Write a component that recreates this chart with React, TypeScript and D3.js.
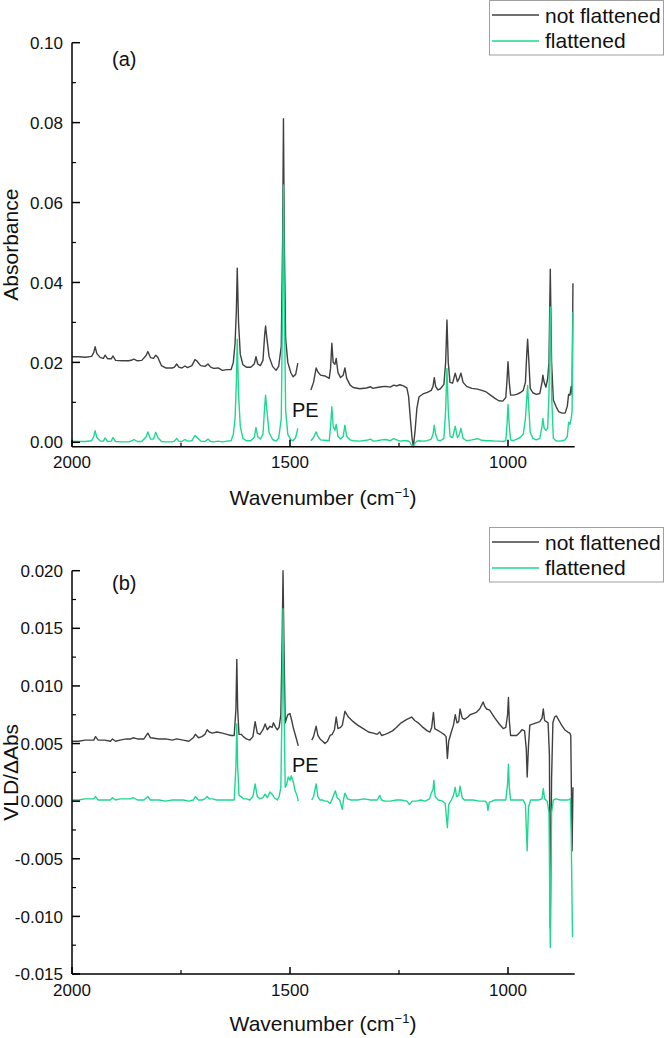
import React from "react";
import * as d3 from "d3";

type Pt = [number, number | null];

const seriesNames = ["not flattened", "flattened"];
const seriesColors = ["#404040", "#1dd98f"];
const xTicks = [2000, 1500, 1000];
const xMinorTicks = [1750, 1250];
const yTicksA = [0, 0.02, 0.04, 0.06, 0.08, 0.1];
const yMinorA = [0.01, 0.03, 0.05, 0.07, 0.09];
const yTicksB = [-0.015, -0.01, -0.005, 0, 0.005, 0.01, 0.015, 0.02];
const yMinorB = [-0.0125, -0.0075, -0.0025, 0.0025, 0.0075, 0.0125, 0.0175];

const absNotFlattened: Pt[] = [
  [2000, 0.0214], [1985, 0.0214], [1970, 0.0213], [1955, 0.0215], [1950, 0.0225], [1947, 0.0239], [1943, 0.0222],
  [1935, 0.0212], [1928, 0.021], [1924, 0.0218], [1918, 0.0209], [1910, 0.0209], [1906, 0.0216], [1900, 0.0205],
  [1885, 0.0204], [1870, 0.0204], [1862, 0.0206], [1858, 0.0208], [1850, 0.0204], [1840, 0.0205], [1830, 0.0217],
  [1826, 0.0227], [1820, 0.0212], [1813, 0.021], [1808, 0.0218], [1803, 0.0212], [1795, 0.0192], [1785, 0.0186],
  [1770, 0.0186], [1765, 0.0188], [1760, 0.0196], [1755, 0.0188], [1748, 0.0186], [1741, 0.0191], [1735, 0.0187],
  [1725, 0.0192], [1718, 0.0207], [1714, 0.0204], [1705, 0.0192], [1695, 0.019], [1688, 0.0196], [1682, 0.0188],
  [1675, 0.0185], [1665, 0.0186], [1655, 0.018], [1645, 0.0182], [1635, 0.0182], [1630, 0.02], [1626, 0.0248],
  [1623, 0.033], [1621, 0.0436], [1618, 0.03], [1614, 0.022], [1608, 0.0194], [1600, 0.0188], [1590, 0.0188],
  [1582, 0.0196], [1578, 0.0214], [1574, 0.0196], [1568, 0.0192], [1562, 0.0205], [1558, 0.027], [1556, 0.0291],
  [1553, 0.026], [1548, 0.0215], [1540, 0.019], [1532, 0.018], [1526, 0.019], [1520, 0.024], [1517, 0.05],
  [1515, 0.081], [1513, 0.05], [1510, 0.026], [1505, 0.02], [1498, 0.0174], [1493, 0.0164], [1487, 0.017],
  [1482, 0.0198], [1466, null],
  [1452, 0.0131], [1446, 0.015], [1440, 0.0186], [1436, 0.0176], [1430, 0.0168], [1420, 0.0166], [1410, 0.016],
  [1407, 0.0185], [1404, 0.0248], [1401, 0.02], [1397, 0.0195], [1394, 0.021], [1390, 0.0175], [1384, 0.0162],
  [1378, 0.0168], [1374, 0.0186], [1370, 0.016], [1362, 0.0143], [1355, 0.0137], [1340, 0.0134], [1325, 0.0136],
  [1315, 0.0139], [1310, 0.0135], [1300, 0.0137], [1290, 0.0139], [1280, 0.014], [1270, 0.0138], [1262, 0.0143],
  [1255, 0.0141], [1248, 0.0144], [1240, 0.0141], [1232, 0.0136], [1228, 0.0115], [1224, 0.006], [1220, 0.001],
  [1217, -0.0011], [1213, 0.003], [1209, 0.0085], [1204, 0.0114], [1195, 0.0121], [1185, 0.0125], [1176, 0.013],
  [1172, 0.014], [1169, 0.0162], [1166, 0.014], [1161, 0.0131], [1155, 0.0134], [1147, 0.0145], [1143, 0.02],
  [1140, 0.0306], [1137, 0.02], [1133, 0.015], [1127, 0.0148], [1121, 0.0173], [1116, 0.0152], [1112, 0.016],
  [1108, 0.0173], [1103, 0.015], [1095, 0.014], [1083, 0.0135], [1070, 0.0133], [1060, 0.013], [1050, 0.0126],
  [1040, 0.0118], [1030, 0.011], [1021, 0.0104], [1012, 0.0103], [1005, 0.0112], [1002, 0.016], [1000, 0.0202],
  [997, 0.015], [994, 0.0118], [988, 0.0118], [980, 0.012], [972, 0.0124], [965, 0.013], [960, 0.015], [957, 0.022],
  [955, 0.0258], [952, 0.02], [949, 0.0135], [943, 0.0124], [935, 0.012], [927, 0.0122], [922, 0.015], [920, 0.0168],
  [917, 0.015], [913, 0.0138], [909, 0.016], [906, 0.02], [903, 0.0433], [900, 0.02], [896, 0.0106], [890, 0.009],
  [884, 0.0077], [876, 0.0073], [869, 0.0073], [864, 0.009], [861, 0.012], [858, 0.0118], [855, 0.014], [853, 0.012],
  [851, 0.0398],
];

const absFlattened: Pt[] = [
  [2000, 0.0003], [1985, 0.0002], [1970, 0.0002], [1955, 0.0004], [1950, 0.0015], [1947, 0.0029], [1943, 0.0012],
  [1935, 0.0003], [1928, 0.0003], [1924, 0.0011], [1918, 0.0002], [1910, 0.0003], [1906, 0.0012], [1900, 0.0002],
  [1885, 0.0001], [1870, 0.0001], [1862, 0.0004], [1858, 0.0007], [1850, 0.0002], [1840, 0.0002], [1830, 0.0014],
  [1826, 0.0026], [1820, 0.0008], [1813, 0.0008], [1808, 0.0025], [1803, 0.0012], [1795, 0.0002], [1785, 0.0001],
  [1770, 0.0001], [1765, 0.0003], [1760, 0.001], [1755, 0.0003], [1748, 0.0002], [1741, 0.0007], [1735, 0.0003],
  [1725, 0.0004], [1718, 0.0017], [1714, 0.0013], [1705, 0.0003], [1695, 0.0002], [1688, 0.0008], [1682, 0.0002],
  [1675, 0.0001], [1665, 0.0003], [1655, 0.0001], [1645, 0.0003], [1635, 0.0004], [1630, 0.002], [1626, 0.006],
  [1623, 0.015], [1621, 0.0258], [1618, 0.012], [1614, 0.004], [1608, 0.001], [1600, 0.0004], [1590, 0.0004],
  [1582, 0.0012], [1578, 0.0037], [1574, 0.0014], [1568, 0.0008], [1562, 0.002], [1558, 0.009], [1556, 0.0118],
  [1553, 0.008], [1548, 0.0025], [1540, 0.0007], [1532, 0.0003], [1526, 0.001], [1520, 0.006], [1517, 0.035],
  [1515, 0.0644], [1513, 0.035], [1510, 0.008], [1505, 0.002], [1498, 0.0006], [1493, 0.0004], [1487, 0.0012],
  [1482, 0.0035], [1466, null],
  [1452, 0.0004], [1446, 0.0012], [1440, 0.0026], [1436, 0.0015], [1430, 0.0006], [1420, 0.0005], [1410, 0.0004],
  [1407, 0.004], [1404, 0.0089], [1401, 0.004], [1397, 0.003], [1394, 0.0045], [1390, 0.0015], [1384, 0.0008],
  [1378, 0.0015], [1374, 0.0043], [1370, 0.0015], [1362, 0.0006], [1355, 0.0004], [1340, 0.0003], [1325, 0.0005],
  [1315, 0.0008], [1310, 0.0003], [1300, 0.0004], [1290, 0.0006], [1280, 0.0007], [1270, 0.0004], [1262, 0.0009],
  [1255, 0.0006], [1248, 0.0003], [1240, 0.0004], [1232, 0.0004], [1226, 0.0002], [1221, -0.0008], [1217, -0.001],
  [1213, -0.0002], [1209, 0.0003], [1204, 0.0004], [1195, 0.0003], [1185, 0.0004], [1176, 0.0008], [1172, 0.002],
  [1169, 0.0043], [1166, 0.002], [1161, 0.0005], [1155, 0.0004], [1147, 0.001], [1143, 0.008], [1140, 0.0185],
  [1137, 0.008], [1133, 0.0015], [1127, 0.0012], [1121, 0.004], [1116, 0.0012], [1112, 0.0018], [1108, 0.0035],
  [1103, 0.001], [1095, 0.0004], [1083, 0.0006], [1070, 0.0009], [1060, 0.0005], [1050, 0.0004], [1040, 0.0004],
  [1030, 0.0003], [1021, 0.0003], [1012, 0.0002], [1005, 0.0004], [1002, 0.005], [1000, 0.0095], [997, 0.004],
  [994, 0.0006], [988, 0.0004], [980, 0.0008], [972, 0.0012], [965, 0.002], [960, 0.006], [957, 0.011], [955, 0.0142],
  [952, 0.008], [949, 0.0025], [943, 0.001], [935, 0.0006], [927, 0.001], [922, 0.004], [920, 0.006], [917, 0.0035],
  [913, 0.003], [909, 0.0035], [906, 0.012], [903, 0.0339], [900, 0.012], [896, 0.001], [890, 0.0004], [884, 0.0003],
  [876, 0.0004], [869, 0.0006], [864, 0.0015], [861, 0.005], [858, 0.0045], [855, 0.006], [853, 0.0078], [851, 0.0327],
];

const vldNotFlattened: Pt[] = [
  [2000, 0.0052], [1985, 0.0052], [1970, 0.0053], [1950, 0.0053], [1946, 0.0056], [1940, 0.0053], [1925, 0.0053],
  [1912, 0.0052], [1907, 0.0054], [1900, 0.0052], [1890, 0.0053], [1875, 0.0054], [1865, 0.0054], [1860, 0.0055],
  [1850, 0.0054], [1835, 0.0054], [1826, 0.0059], [1820, 0.0055], [1800, 0.0054], [1785, 0.0054], [1770, 0.0053],
  [1760, 0.0054], [1745, 0.0053], [1732, 0.0052], [1722, 0.0055], [1717, 0.0058], [1710, 0.0055], [1702, 0.0056],
  [1695, 0.0058], [1690, 0.0062], [1685, 0.006], [1678, 0.0059], [1668, 0.006], [1655, 0.0059], [1645, 0.0058],
  [1635, 0.0057], [1628, 0.0057], [1624, 0.008], [1622, 0.0123], [1620, 0.008], [1617, 0.0058], [1612, 0.0058],
  [1607, 0.0056], [1600, 0.0054], [1592, 0.0053], [1585, 0.0056], [1580, 0.0069], [1575, 0.0059], [1569, 0.0058],
  [1562, 0.0062], [1557, 0.0067], [1552, 0.0062], [1546, 0.0065], [1541, 0.0064], [1538, 0.0068], [1533, 0.0064],
  [1529, 0.0062], [1525, 0.0064], [1521, 0.0075], [1518, 0.014], [1516, 0.02], [1514, 0.014], [1511, 0.0068],
  [1508, 0.0072], [1505, 0.0075], [1500, 0.0076], [1496, 0.007], [1492, 0.0063], [1486, 0.0055], [1481, 0.0048],
  [1466, null],
  [1450, 0.0053], [1446, 0.0056], [1440, 0.0065], [1436, 0.0057], [1431, 0.0054], [1425, 0.0052], [1420, 0.005],
  [1414, 0.0052], [1408, 0.0057], [1403, 0.0058], [1398, 0.0062], [1394, 0.0073], [1390, 0.0063], [1384, 0.0064],
  [1380, 0.0066], [1374, 0.0078], [1366, 0.0073], [1355, 0.0069], [1345, 0.0066], [1332, 0.0063], [1320, 0.006],
  [1309, 0.0059], [1300, 0.0058], [1294, 0.006], [1290, 0.0057], [1282, 0.0058], [1275, 0.0059], [1265, 0.0061],
  [1256, 0.0064], [1245, 0.0068], [1232, 0.0071], [1221, 0.0073], [1214, 0.007], [1206, 0.0068], [1195, 0.0064],
  [1185, 0.0061], [1179, 0.006], [1175, 0.0064], [1171, 0.0077], [1168, 0.0063], [1164, 0.0062], [1155, 0.006],
  [1147, 0.0058], [1142, 0.0056], [1139, 0.0037], [1136, 0.0052], [1130, 0.006], [1125, 0.0066], [1121, 0.0075],
  [1117, 0.0068], [1113, 0.0069], [1110, 0.008], [1105, 0.0072], [1100, 0.0071], [1092, 0.0073], [1087, 0.0075],
  [1080, 0.0076], [1073, 0.0077], [1065, 0.008], [1057, 0.0086], [1053, 0.0082], [1049, 0.008], [1042, 0.0079],
  [1030, 0.0072], [1020, 0.0067], [1011, 0.0063], [1005, 0.0064], [1001, 0.0075], [999, 0.009], [997, 0.007],
  [994, 0.0057], [988, 0.0057], [980, 0.0057], [972, 0.006], [968, 0.0062], [962, 0.0061], [958, 0.0045],
  [956, 0.0021], [953, 0.0048], [950, 0.0066], [942, 0.0067], [935, 0.0068], [927, 0.0069], [922, 0.0072],
  [919, 0.008], [916, 0.007], [912, 0.0069], [908, 0.0068], [905, 0.004], [903, -0.011], [900, 0.002], [897, 0.0068],
  [893, 0.0073], [889, 0.0074], [883, 0.007], [877, 0.0066], [870, 0.0062], [863, 0.006], [858, 0.0059],
  [856, 0.0057], [853, -0.0043], [851, 0.0012],
];

const vldFlattened: Pt[] = [
  [2000, 0.0001], [1985, 0.0001], [1970, 0.0002], [1950, 0.0002], [1946, 0.0004], [1940, 0.0001], [1925, 0.0001],
  [1912, 0.0001], [1907, 0.0003], [1900, 0.0001], [1890, 0.0002], [1875, 0.0002], [1865, 0.0002], [1860, 0.0003],
  [1850, 0.0001], [1835, 0.0001], [1826, 0.0004], [1820, 0.0001], [1800, 0.0001], [1785, 0.0], [1770, 0.0001],
  [1760, 0.0001], [1745, 0.0001], [1732, 0.0], [1722, 0.0001], [1717, 0.0004], [1710, 0.0001], [1702, 0.0001],
  [1695, 0.0002], [1690, 0.0004], [1685, 0.0002], [1678, 0.0002], [1668, 0.0001], [1655, 0.0001], [1645, 0.0001],
  [1635, 0.0001], [1628, 0.0001], [1624, 0.003], [1622, 0.0067], [1620, 0.003], [1617, 0.0005], [1612, 0.0004],
  [1607, 0.0002], [1600, 0.0002], [1592, 0.0001], [1585, 0.0004], [1580, 0.0015], [1575, 0.0004], [1569, 0.0002],
  [1562, 0.0003], [1557, 0.0006], [1552, 0.0003], [1546, 0.0008], [1541, 0.0006], [1536, 0.0003], [1529, 0.0001],
  [1525, 0.0004], [1521, 0.0012], [1518, 0.009], [1516, 0.0167], [1514, 0.009], [1511, 0.0012], [1508, 0.0014],
  [1504, 0.0021], [1500, 0.0018], [1497, 0.0022], [1492, 0.0016], [1489, 0.001], [1484, 0.0005], [1481, 0.0],
  [1466, null],
  [1450, 0.0001], [1446, 0.0004], [1440, 0.0015], [1436, 0.0004], [1431, 0.0001], [1425, 0.0001], [1420, 0.0],
  [1414, 0.0], [1408, -0.0002], [1403, 0.0002], [1396, 0.0009], [1392, 0.0003], [1386, 0.0001], [1380, -0.0007],
  [1377, 0.0002], [1374, 0.0007], [1368, 0.0002], [1360, 0.0001], [1345, 0.0001], [1330, 0.0002], [1315, 0.0001],
  [1300, 0.0001], [1294, 0.0005], [1290, 0.0001], [1282, 0.0], [1270, 0.0], [1256, 0.0001], [1245, 0.0001],
  [1232, 0.0], [1226, -0.0003], [1220, 0.0], [1210, 0.0], [1200, 0.0001], [1190, 0.0], [1180, 0.0002],
  [1176, 0.0007], [1172, 0.001], [1170, 0.0018], [1167, 0.0004], [1160, 0.0001], [1150, 0.0], [1144, -0.0002],
  [1139, -0.0023], [1136, -0.0003], [1130, 0.0001], [1125, 0.0005], [1121, 0.0012], [1118, 0.0004], [1113, 0.0005],
  [1110, 0.0013], [1105, 0.0003], [1100, 0.0001], [1090, 0.0001], [1080, 0.0001], [1065, 0.0], [1052, 0.0],
  [1048, -0.0002], [1046, -0.0008], [1043, -0.0001], [1030, 0.0001], [1015, 0.0001], [1005, 0.0001], [1001, 0.0015],
  [999, 0.0032], [997, 0.0012], [994, 0.0001], [985, 0.0001], [975, 0.0001], [965, 0.0001], [960, -0.0003],
  [956, -0.0043], [953, -0.0005], [948, 0.0001], [940, 0.0001], [930, 0.0001], [922, 0.0002], [919, 0.0011],
  [916, 0.0002], [910, 0.0], [906, -0.001], [903, -0.0127], [900, -0.001], [896, 0.0001], [890, 0.0002],
  [880, 0.0001], [870, 0.0001], [862, 0.0001], [857, 0.0002], [855, -0.003], [852, -0.0118],
];

const FONT = "'Liberation Sans', Arial, Helvetica, sans-serif";

type PanelProps = {
  top: number;
  bottom: number;
  yDomain: [number, number];
  yTicks: number[];
  yMinor: number[];
  fmt: (v: number) => string;
  series: Pt[][];
  yTitle: string;
  tag: string;
  tagY: number;
  peY: number;
  legendTop: number;
  xLabelY: number;
  xTitleY: number;
};

const X0 = 72;
const X1 = 574.7;

function Panel(p: PanelProps) {
  const x = d3.scaleLinear().domain([2000, 847]).range([X0, X1]);
  const y = d3.scaleLinear().domain(p.yDomain).range([p.bottom, p.top]);
  const line = d3
    .line<Pt>()
    .defined((d) => d[1] !== null)
    .x((d) => x(d[0]))
    .y((d) => y(d[1] as number));
  const midY = (p.top + p.bottom) / 2;
  return (
    <g>
      {p.series.map((s, i) => (
        <path key={i} d={line(s) || ""} fill="none" stroke={seriesColors[i]} strokeWidth={1.4} strokeLinejoin="round" />
      ))}
      <line x1={X0} x2={X0} y1={p.top} y2={p.bottom} stroke="#000" strokeWidth={1.5} />
      <line x1={X0} x2={X1} y1={p.bottom} y2={p.bottom} stroke="#000" strokeWidth={1.5} />
      {p.yTicks.map((t) => (
        <g key={"y" + t}>
          <line x1={X0} x2={X0 + 8} y1={y(t)} y2={y(t)} stroke="#000" strokeWidth={1.5} />
          <text x={63} y={y(t)} dy="0.36em" textAnchor="end" fontSize={17} fontFamily={FONT} fill="#111">
            {p.fmt(t)}
          </text>
        </g>
      ))}
      {p.yMinor.map((t) => (
        <line key={"ym" + t} x1={X0} x2={X0 + 4} y1={y(t)} y2={y(t)} stroke="#000" strokeWidth={1.2} />
      ))}
      {xTicks.map((t) => (
        <g key={"x" + t}>
          <line x1={x(t)} x2={x(t)} y1={p.bottom} y2={p.bottom - 7} stroke="#000" strokeWidth={1.5} />
          <text x={x(t)} y={p.xLabelY} textAnchor="middle" fontSize={17} fontFamily={FONT} fill="#111">
            {t}
          </text>
        </g>
      ))}
      {xMinorTicks.map((t) => (
        <line key={"xm" + t} x1={x(t)} x2={x(t)} y1={p.bottom} y2={p.bottom - 4} stroke="#000" strokeWidth={1.2} />
      ))}
      <text x={323} y={p.xTitleY} textAnchor="middle" fontSize={21} fontFamily={FONT} fill="#111">
        Wavenumber (cm
        <tspan fontSize={13} dy={-8}>−1</tspan>
        <tspan dy={8}>)</tspan>
      </text>
      <text
        transform={`translate(17.5,${midY}) rotate(-90)`}
        textAnchor="middle"
        fontSize={21}
        fontFamily={FONT}
        fill="#111"
      >
        {p.yTitle}
      </text>
      <text x={112} y={p.tagY} fontSize={20} fontFamily={FONT} fill="#111">
        {p.tag}
      </text>
      <text x={292} y={p.peY} fontSize={20} fontFamily={FONT} fill="#111">
        PE
      </text>
      <rect x={489.5} y={p.legendTop + 0.5} width={174} height={54.5} fill="#fff" stroke="#a0a0a0" strokeWidth={1} />
      {seriesNames.map((n, i) => (
        <g key={n}>
          <line
            x1={492}
            x2={539}
            y1={p.legendTop + 15 + i * 26}
            y2={p.legendTop + 15 + i * 26}
            stroke={seriesColors[i]}
            strokeWidth={1.5}
          />
          <text x={545} y={p.legendTop + 22.5 + i * 25.5} fontSize={21} fontFamily={FONT} fill="#111">
            {n}
          </text>
        </g>
      ))}
    </g>
  );
}

const fmtA = (v: number) => d3.format(".2f")(v).replace("−", "-");
const fmtB = (v: number) => d3.format(".3f")(v).replace("−", "-");

export default function App() {
  return (
    <svg
      width={664}
      height={1038}
      style={{ position: "absolute", left: 0, top: 0, background: "#fff" }}
    >
      <rect width={664} height={1038} fill="#fff" />
      <Panel
        top={42.7}
        bottom={446.7}
        yDomain={[-0.0011, 0.1]}
        yTicks={yTicksA}
        yMinor={yMinorA}
        fmt={fmtA}
        series={[absNotFlattened, absFlattened]}
        yTitle="Absorbance"
        tag="(a)"
        tagY={66}
        peY={417}
        legendTop={0}
        xLabelY={468}
        xTitleY={505}
      />
      <Panel
        top={570.7}
        bottom={974}
        yDomain={[-0.015, 0.02]}
        yTicks={yTicksB}
        yMinor={yMinorB}
        fmt={fmtB}
        series={[vldNotFlattened, vldFlattened]}
        yTitle="VLD/ΔAbs"
        tag="(b)"
        tagY={590}
        peY={772}
        legendTop={527}
        xLabelY={996}
        xTitleY={1031}
      />
    </svg>
  );
}
